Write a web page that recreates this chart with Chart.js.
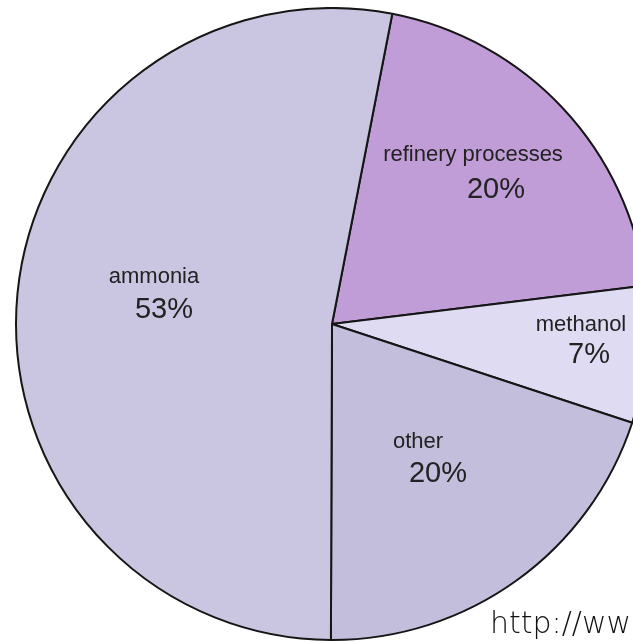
<!DOCTYPE html>
<html>
<head>
<meta charset="utf-8">
<script src="https://cdn.jsdelivr.net/npm/chart.js@4"></script>
<style>
  html, body { margin: 0; padding: 0; background: #fff; overflow: hidden; }
  body { width: 633px; height: 642px; position: relative; }
  #wrap { position: absolute; left: 15px; top: 7px; width: 634px; height: 634px; }
  #credit {
    position: absolute; left: 490px; top: 605px; white-space: nowrap;
    font-family: "DejaVu Sans", sans-serif; font-weight: 300; font-size: 30px; color: #111;
  }
</style>
</head>
<body>
<div id="wrap"><canvas id="pie" width="634" height="634"></canvas></div>
<div id="credit">http://www.</div>
<script>
/* ===============================
   DATA
================================ */
const categories = ['refinery processes', 'methanol', 'other', 'ammonia'];
const shares = [20, 7, 20, 53];
const percentLabels = ['20%', '7%', '20%', '53%'];
const sliceColors = ['#c09dd6', '#dfdbf3', '#c2bedb', '#cac6e2'];

// label placement relative to pie centre: [nameDx, nameDy, pctDx, pctDy]
const labelOffsets = [
  [141, -163, 164, -126],
  [249, 7, 257, 39],
  [86, 124, 106, 158],
  [-178, -41, -168, -6],
];

/* ===============================
   SLICE LABELS
================================ */
const sliceLabels = {
  id: 'sliceLabels',
  afterDatasetsDraw(chart) {
    const ctx = chart.ctx;
    const arcs = chart.getDatasetMeta(0).data;
    ctx.save();
    ctx.fillStyle = '#222';
    ctx.textAlign = 'center';
    ctx.textBaseline = 'alphabetic';
    arcs.forEach((arc, i) => {
      const o = labelOffsets[i];
      ctx.font = '22px "Liberation Sans", Arial, sans-serif';
      ctx.fillText(categories[i], arc.x + o[0], arc.y + o[1]);
      ctx.font = '29px "Liberation Sans", Arial, sans-serif';
      ctx.fillText(percentLabels[i], arc.x + o[2], arc.y + o[3]);
    });
    ctx.restore();
  },
};

new Chart(document.getElementById('pie'), {
  type: 'pie',
  data: {
    labels: categories,
    datasets: [
      {
        data: shares,
        backgroundColor: sliceColors,
        borderColor: '#161616',
        borderWidth: 2,
      },
    ],
  },
  options: {
    responsive: false,
    animation: false,
    rotation: 11,
    layout: { padding: 0 },
    plugins: {
      legend: { display: false },
      tooltip: { enabled: false },
    },
  },
  plugins: [sliceLabels],
});
</script>
</body>
</html>
